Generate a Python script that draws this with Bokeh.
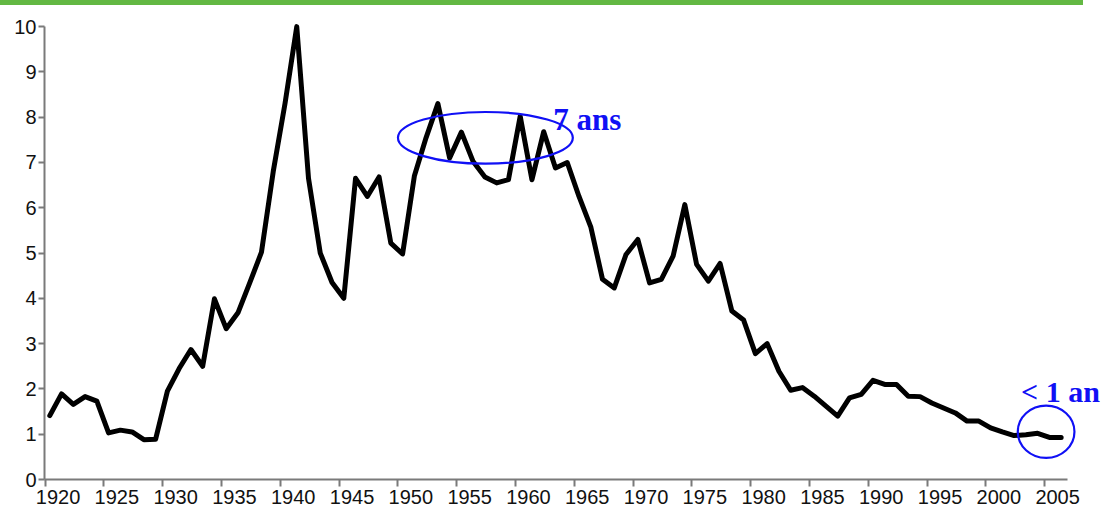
from bokeh.plotting import figure
from bokeh.layouts import column
from bokeh.models import Range1d, FixedTicker, ColumnDataSource, Div, LinearAxis
from bokeh.transform import dodge
from bokeh.core.properties import value
from bokeh.embed import file_html
from bokeh.resources import INLINE

# ---- data ----
years = list(range(1920, 2007))
durations = [
    1.41, 1.89, 1.66, 1.83, 1.73, 1.03, 1.09, 1.05, 0.88, 0.89,   # 1920-1929
    1.95, 2.45, 2.87, 2.50, 3.99, 3.33, 3.68, 4.34, 5.02, 6.80,   # 1930-1939
    8.30, 10.00, 6.65, 5.00, 4.35, 4.00, 6.65, 6.25, 6.68, 5.22,  # 1940-1949
    4.98, 6.70, 7.55, 8.30, 7.10, 7.67, 7.02, 6.68, 6.55, 6.62,   # 1950-1959
    8.02, 6.62, 7.68, 6.88, 7.00, 6.25, 5.58, 4.42, 4.23, 4.97,   # 1960-1969
    5.30, 4.34, 4.42, 4.93, 6.07, 4.75, 4.38, 4.77, 3.72, 3.52,   # 1970-1979
    2.78, 3.00, 2.39, 1.97, 2.03, 1.84, 1.62, 1.40, 1.80, 1.88,   # 1980-1989
    2.19, 2.10, 2.10, 1.84, 1.83, 1.69, 1.58, 1.47, 1.29, 1.29,   # 1990-1999
    1.14, 1.05, 0.97, 0.99, 1.02, 0.93, 0.93,                     # 2000-2006
]
x_ticks = list(range(1920, 2006, 5))
y_ticks = list(range(0, 11))

# annotations
ann_texts = ["7 ans", "< 1 an"]
ann_x = [1963.21, 2002.99]
ann_y = [7.96, 1.95]
oval_x = [1957.44, 2005.12]
oval_y = [7.545, 1.055]
oval_w = [14.87, 4.82]
oval_h = [1.141, 1.155]

BLUE = "#1010F5"
GREEN = "#63B843"
X_START, X_END = 1919.95, 2010.0
LABEL_SHIFT = 1.1   # year labels sit slightly to the right of their ticks

# ---- top green rule ----
top = Div(text="", width=1083, height=5, margin=0,
          styles={"background-color": GREEN, "width": "1083px", "height": "5px"})

# ---- main chart ----
p = figure(width=1105, height=507,
           x_range=Range1d(X_START, X_END), y_range=Range1d(0, 10.29),
           toolbar_location=None, output_backend="svg",
           min_border_left=44, min_border_right=2, min_border_top=8, min_border_bottom=33)
p.outline_line_color = None
p.xgrid.visible = False
p.ygrid.visible = False
p.background_fill_color = "white"
p.border_fill_color = "white"

src = ColumnDataSource(dict(year=years, duration=durations))
p.line(x=dodge("year", 0.4), y="duration", source=src,
       line_color="black", line_width=5, line_join="round", line_cap="round")

p.ellipse(x=oval_x, y=oval_y, width=oval_w, height=oval_h,
          fill_color=None, line_color=BLUE, line_width=2.2)
p.text(x=ann_x, y=ann_y, text=ann_texts, text_color=BLUE,
       text_font=value("Liberation Serif"), text_font_style="bold",
       text_font_size=["31px", "30px"], text_baseline="alphabetic", text_align="left")

for ax in (p.xaxis, p.yaxis):
    ax.axis_line_color = "#7a7a7a"
    ax.axis_line_width = 2
    ax.major_tick_line_color = "#7a7a7a"
    ax.major_tick_line_width = 2
    ax.major_tick_in = 0
    ax.minor_tick_line_color = None
    ax.major_label_text_font = "Liberation Sans"
    ax.major_label_text_color = "#111111"

# tick axis (line + ticks, labels not drawn)
p.xaxis.ticker = FixedTicker(ticks=x_ticks)
p.xaxis.bounds = (X_START, 2006.9)
p.xaxis.major_tick_out = 7
p.xaxis.major_label_standoff = 0
p.xaxis.major_label_text_font_size = "1px"
p.xaxis.major_label_text_color = None

# label axis (labels only, slightly shifted right)
p.extra_x_ranges = {"labels": Range1d(X_START - LABEL_SHIFT, X_END - LABEL_SHIFT)}
lab_axis = LinearAxis(x_range_name="labels", ticker=FixedTicker(ticks=x_ticks),
                      axis_line_color=None, major_tick_line_color=None,
                      minor_tick_line_color=None, major_tick_in=0, major_tick_out=0,
                      major_label_standoff=3, major_label_text_font="Liberation Sans",
                      major_label_text_font_size="20px", major_label_text_color="#111111")
p.add_layout(lab_axis, "below")

p.yaxis.ticker = FixedTicker(ticks=y_ticks)
p.yaxis.bounds = (0, 10)
p.yaxis.major_tick_out = 6
p.yaxis.major_label_standoff = 2
p.yaxis.major_label_text_font_size = "20px"

layout = column(top, p, spacing=0)
open("out.html", "w").write(file_html(layout, INLINE))
